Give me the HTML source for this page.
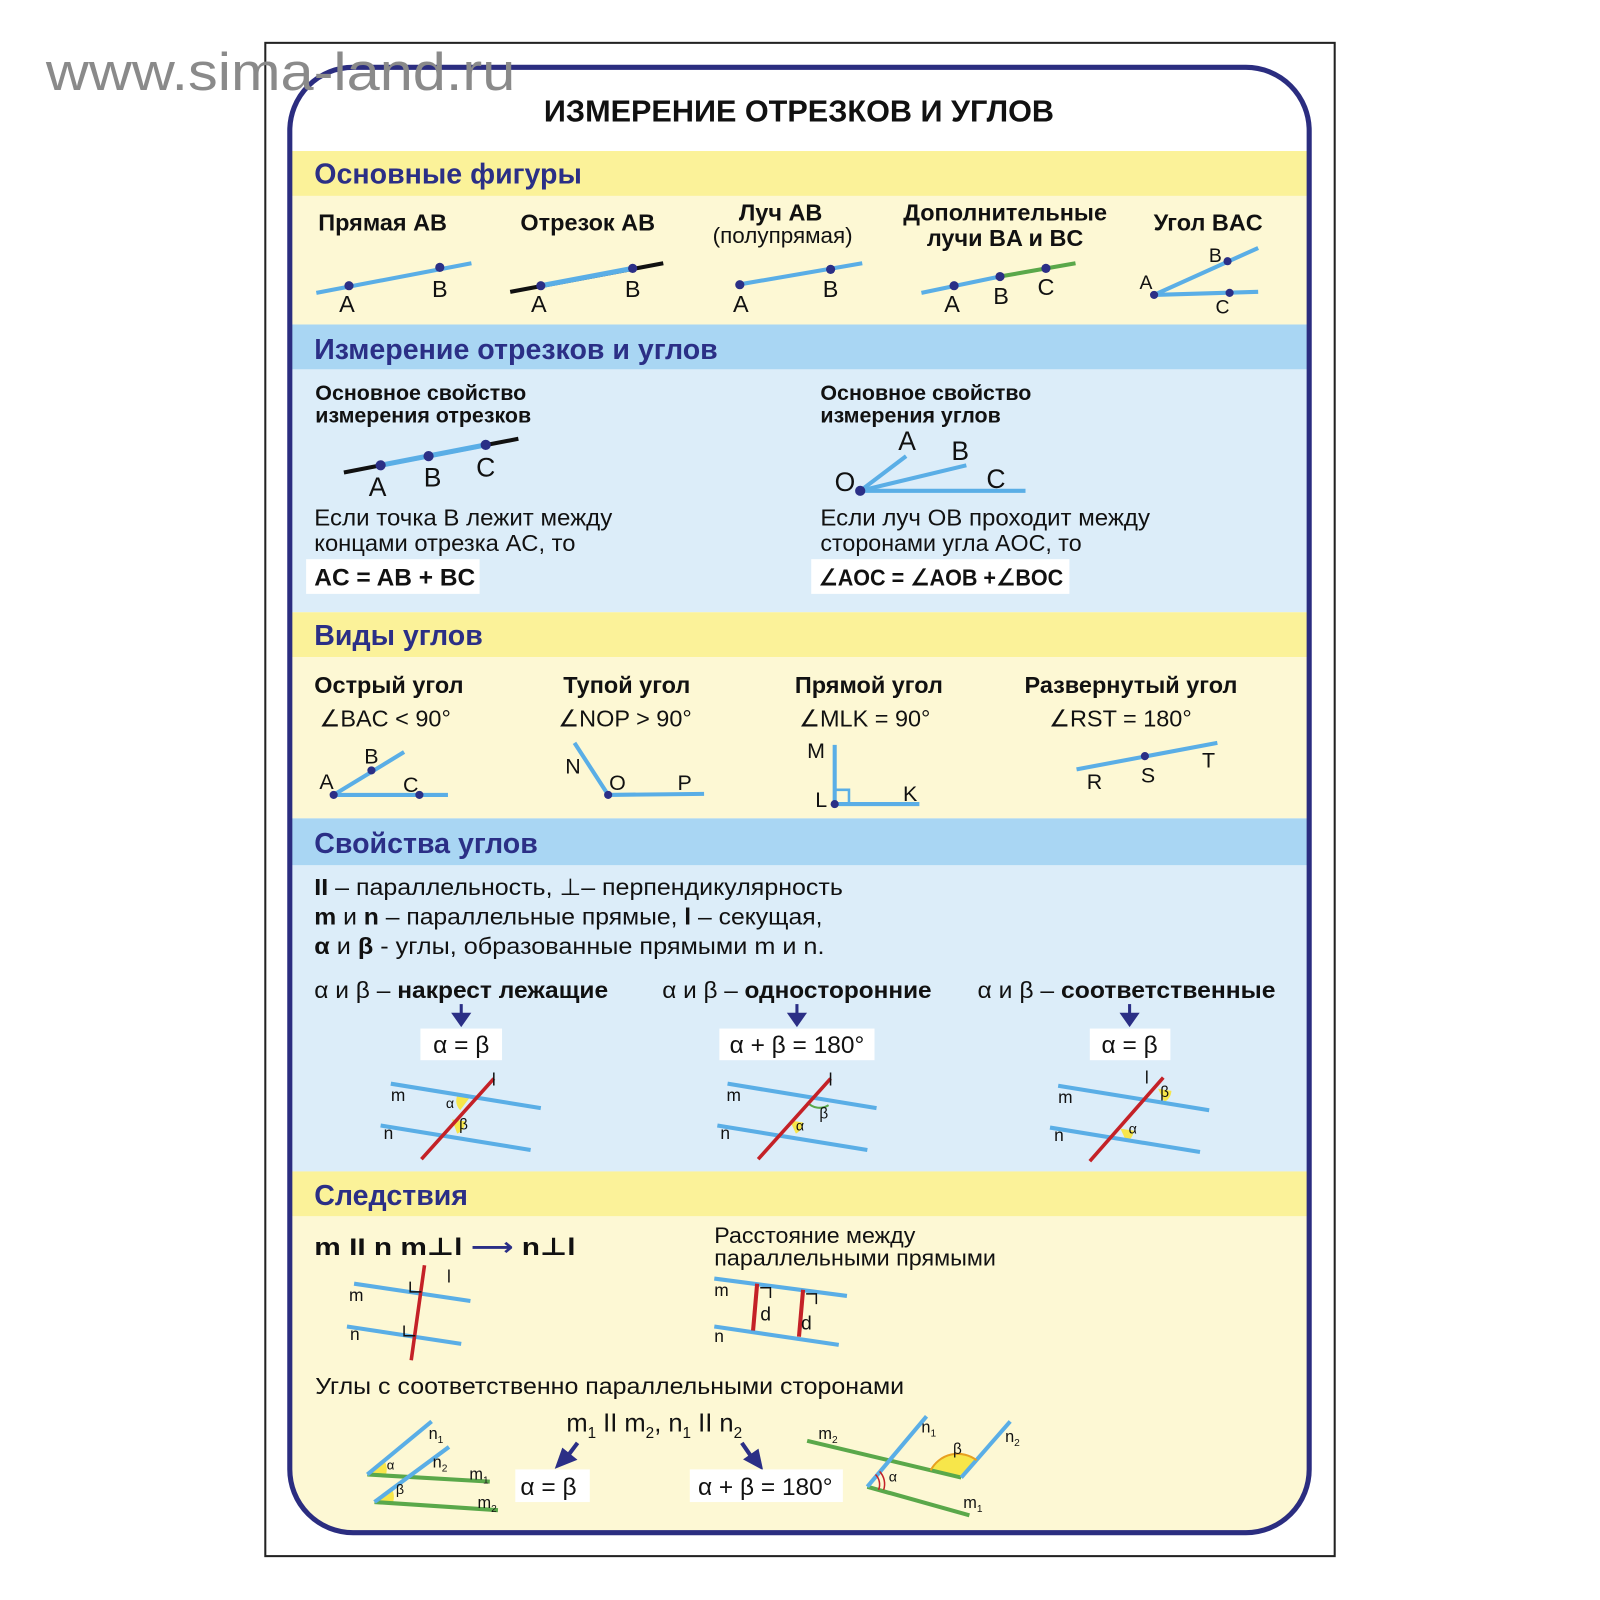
<!DOCTYPE html>
<html><head><meta charset="utf-8"><style>html,body{margin:0;padding:0;background:#fff}svg{display:block}
text{font-family:"Liberation Sans","DejaVu Sans",sans-serif}</style></head><body>
<svg width="1600" height="1600" viewBox="0 0 1568 1568" xmlns="http://www.w3.org/2000/svg">
<defs><clipPath id="c"><rect x="284" y="66" width="999" height="1436" rx="62"/></clipPath></defs>
<rect x="260" y="42" width="1048" height="1483" fill="#fff" stroke="#222" stroke-width="2"/>
<g clip-path="url(#c)">
<rect x="284" y="66" width="999" height="1436" fill="#fff"/>
<rect x="284" y="148" width="999" height="44" fill="#fbf299"/>
<rect x="284" y="192" width="999" height="126" fill="#fdf8d4"/>
<rect x="284" y="318" width="999" height="44" fill="#a9d6f3"/>
<rect x="284" y="362" width="999" height="238" fill="#dcedf9"/>
<rect x="284" y="600" width="999" height="44" fill="#fbf299"/>
<rect x="284" y="644" width="999" height="158" fill="#fdf8d4"/>
<rect x="284" y="802" width="999" height="46" fill="#a9d6f3"/>
<rect x="284" y="848" width="999" height="300" fill="#dcedf9"/>
<rect x="284" y="1148" width="999" height="44" fill="#fbf299"/>
<rect x="284" y="1192" width="999" height="320" fill="#fdf8d4"/>
</g>
<rect x="284" y="66" width="999" height="1436" rx="62" fill="none" stroke="#2b2d80" stroke-width="5"/>
<text x="45" y="88" font-size="52" fill="#8a8a8a" textLength="460" lengthAdjust="spacingAndGlyphs">www.sima-land.ru</text>
<text x="783" y="119" font-size="30" font-weight="bold" text-anchor="middle" fill="#111">ИЗМЕРЕНИЕ ОТРЕЗКОВ И УГЛОВ</text>
<g font-size="28" font-weight="bold" fill="#2b2f86">
<text x="308" y="180">Основные фигуры</text>
<text x="308" y="352">Измерение отрезков и углов</text>
<text x="308" y="632">Виды углов</text>
<text x="308" y="836">Свойства углов</text>
<text x="308" y="1181">Следствия</text>
</g>
<g font-size="23" font-weight="bold" fill="#111" text-anchor="middle">
<text x="375" y="226">Прямая AB</text><text x="576" y="226">Отрезок AB</text>
<text x="765" y="216">Луч AB</text><text x="985" y="216">Дополнительные</text><text x="985" y="241">лучи BA и BC</text>
<text x="1184" y="226">Угол BAC</text></g>
<text x="767" y="238" font-size="22" text-anchor="middle" fill="#111">(полупрямая)</text>
<g stroke="#5aaee6" stroke-width="4" fill="none">
<line x1="310" y1="287" x2="462" y2="258"/>
<line x1="723" y1="279" x2="845" y2="258"/>
<line x1="903" y1="287" x2="980" y2="271"/>
<line x1="1131" y1="289" x2="1233" y2="243"/><line x1="1131" y1="289" x2="1233" y2="286"/>
<line x1="843" y1="481" x2="947" y2="456"/><line x1="843" y1="481" x2="888" y2="447"/><line x1="843" y1="481" x2="1005" y2="481"/>
</g>
<line x1="500" y1="286" x2="650" y2="258" stroke="#111" stroke-width="4"/>
<line x1="530" y1="280" x2="620" y2="263" stroke="#5aaee6" stroke-width="5"/>
<line x1="980" y1="271" x2="1054" y2="258" stroke="#5aa84a" stroke-width="4"/>
<line x1="337" y1="463" x2="508" y2="430" stroke="#111" stroke-width="4"/>
<line x1="373" y1="456" x2="476" y2="436" stroke="#5aaee6" stroke-width="5"/>
<g fill="#2b2f86">
<circle cx="342" cy="280" r="4.5"/><circle cx="431" cy="262" r="4.5"/>
<circle cx="530" cy="280" r="4.5"/><circle cx="620" cy="263" r="4.5"/>
<circle cx="725" cy="279" r="4.5"/><circle cx="814" cy="264" r="4.5"/>
<circle cx="935" cy="280" r="4.5"/><circle cx="980" cy="271" r="4.5"/><circle cx="1025" cy="263" r="4.5"/>
<circle cx="1131" cy="289" r="4"/><circle cx="1203" cy="256" r="4"/><circle cx="1205" cy="287" r="4"/>
<circle cx="373" cy="456" r="5"/><circle cx="420" cy="447" r="5"/><circle cx="476" cy="436" r="5"/>
<circle cx="843" cy="481" r="5"/>
</g>
<g font-size="23" fill="#111" text-anchor="middle">
<text x="340" y="306">A</text><text x="431" y="291">B</text>
<text x="528" y="306">A</text><text x="620" y="291">B</text>
<text x="726" y="306">A</text><text x="814" y="291">B</text>
<text x="933" y="306">A</text><text x="981" y="298">B</text><text x="1025" y="289">C</text>
<text x="1123" y="283" font-size="19">A</text><text x="1191" y="257" font-size="19">B</text><text x="1198" y="307" font-size="19">C</text>
</g>
<g font-size="21" font-weight="bold" fill="#111">
<text x="309" y="392">Основное свойство</text><text x="309" y="414">измерения отрезков</text>
<text x="804" y="392">Основное свойство</text><text x="804" y="414">измерения углов</text></g>
<g font-size="26" fill="#111" text-anchor="middle">
<text x="370" y="486">A</text><text x="424" y="477">B</text><text x="476" y="467">C</text>
<text x="889" y="441">A</text><text x="941" y="451">B</text><text x="976" y="478">C</text><text x="828" y="481">O</text></g>
<g font-size="23" fill="#111">
<text x="308" y="515" textLength="292" lengthAdjust="spacingAndGlyphs">Если точка B лежит между</text><text x="308" y="540" textLength="256" lengthAdjust="spacingAndGlyphs">концами отрезка AC, то</text>
<text x="804" y="515" textLength="323" lengthAdjust="spacingAndGlyphs">Если луч OB проходит между</text><text x="804" y="540" textLength="256" lengthAdjust="spacingAndGlyphs">сторонами угла AOC, то</text></g>
<rect x="300" y="548" width="170" height="34" fill="#fff"/>
<rect x="795" y="548" width="253" height="34" fill="#fff"/>
<text x="308" y="574" font-size="24" font-weight="bold" fill="#111">AC = AB + BC</text>
<text x="802" y="574" font-size="23" font-weight="bold" fill="#111" textLength="240" lengthAdjust="spacingAndGlyphs">∠AOC = ∠AOB +∠BOC</text>
<g font-size="23" font-weight="bold" fill="#111">
<text x="308" y="679">Острый угол</text><text x="552" y="679">Тупой угол</text><text x="779" y="679">Прямой угол</text><text x="1004" y="679">Развернутый угол</text></g>
<g font-size="23" fill="#111">
<text x="313" y="712">∠BAC &lt; 90°</text><text x="547" y="712">∠NOP &gt; 90°</text><text x="783" y="712">∠MLK = 90°</text><text x="1028" y="712">∠RST = 180°</text></g>
<g stroke="#5aaee6" stroke-width="4" fill="none">
<line x1="327" y1="779" x2="396" y2="737"/><line x1="327" y1="779" x2="439" y2="779"/>
<line x1="596" y1="779" x2="563" y2="728"/><line x1="596" y1="779" x2="690" y2="778"/>
<line x1="818" y1="788" x2="818" y2="730"/><line x1="818" y1="788" x2="901" y2="788"/>
<line x1="1055" y1="754" x2="1193" y2="728"/>
</g>
<path d="M818 774 H832 V788" fill="none" stroke="#5aaee6" stroke-width="2.5"/>
<g fill="#2b2f86"><circle cx="327" cy="779" r="4"/><circle cx="364" cy="755" r="4"/><circle cx="411" cy="779" r="4"/>
<circle cx="596" cy="779" r="4"/><circle cx="818" cy="788" r="4"/><circle cx="1122" cy="741" r="4"/></g>
<g font-size="21" fill="#111">
<text x="313" y="773">A</text><text x="357" y="748">B</text><text x="395" y="776">C</text>
<text x="554" y="758">N</text><text x="597" y="774">O</text><text x="664" y="774">P</text>
<text x="791" y="743">M</text><text x="799" y="791">L</text><text x="885" y="785">K</text>
<text x="1065" y="773">R</text><text x="1118" y="767">S</text><text x="1178" y="752">T</text></g>
<g font-size="23" fill="#111">
<text x="308" y="877" textLength="518" lengthAdjust="spacingAndGlyphs"><tspan font-weight="bold">II</tspan> – параллельность, ⊥– перпендикулярность</text>
<text x="308" y="906" textLength="498" lengthAdjust="spacingAndGlyphs"><tspan font-weight="bold">m</tspan> и <tspan font-weight="bold">n</tspan> – параллельные прямые, <tspan font-weight="bold">l</tspan> – секущая,</text>
<text x="308" y="935" textLength="500" lengthAdjust="spacingAndGlyphs"><tspan font-weight="bold">α</tspan> и <tspan font-weight="bold">β</tspan> - углы, образованные прямыми m и n.</text>
<text x="308" y="978" textLength="288" lengthAdjust="spacingAndGlyphs">α и β – <tspan font-weight="bold">накрест лежащие</tspan></text>
<text x="649" y="978" textLength="264" lengthAdjust="spacingAndGlyphs">α и β – <tspan font-weight="bold">односторонние</tspan></text>
<text x="958" y="978" textLength="292" lengthAdjust="spacingAndGlyphs">α и β – <tspan font-weight="bold">соответственные</tspan></text></g>
<g stroke="#2b2f86" stroke-width="3" fill="#2b2f86">
<line x1="452" y1="984" x2="452" y2="996"/><path d="M445 994 L459 994 L452 1004Z"/>
<line x1="781" y1="984" x2="781" y2="996"/><path d="M774 994 L788 994 L781 1004Z"/>
<line x1="1107" y1="984" x2="1107" y2="996"/><path d="M1100 994 L1114 994 L1107 1004Z"/></g>
<rect x="412" y="1008" width="80" height="31" fill="#fff"/><rect x="705" y="1008" width="152" height="31" fill="#fff"/><rect x="1068" y="1008" width="79" height="31" fill="#fff"/>
<g font-size="24" fill="#111" text-anchor="middle"><text x="452" y="1032">α = β</text><text x="781" y="1032">α + β = 180°</text><text x="1107" y="1032">α = β</text></g>
<g fill="#f7e64a">
<path d="M460 1076 L448 1074 A13 13 0 0 0 451 1088Z"/>
<path d="M443 1097 L456 1099 A13 13 0 0 1 448 1111Z"/>
<path d="M1135 1067 L1148 1069 A13 13 0 0 1 1141 1080Z"/>
<path d="M1098 1106 L1111 1108 A13 13 0 0 1 1104 1119Z"/>
<path d="M774 1098 L787 1100 A13 13 0 0 1 780 1111Z"/>
</g>
<path d="M791 1080 A16 16 0 0 0 812 1083" fill="none" stroke="#5aa84a" stroke-width="2"/>
<g stroke="#5aaee6" stroke-width="4">
<line x1="383" y1="1062" x2="530" y2="1086"/><line x1="373" y1="1103" x2="520" y2="1127"/>
<line x1="713" y1="1062" x2="859" y2="1086"/><line x1="703" y1="1103" x2="850" y2="1127"/>
<line x1="1037" y1="1064" x2="1185" y2="1088"/><line x1="1029" y1="1105" x2="1176" y2="1129"/></g>
<g stroke="#c42127" stroke-width="3.5">
<line x1="413" y1="1136" x2="484" y2="1057"/><line x1="743" y1="1136" x2="814" y2="1057"/><line x1="1068" y1="1138" x2="1140" y2="1056"/></g>
<g font-size="17" fill="#111">
<text x="383" y="1079">m</text><text x="376" y="1116">n</text><text x="482" y="1064">l</text><text x="437" y="1086" font-size="14">α</text><text x="450" y="1107" font-size="15">β</text>
<text x="712" y="1079">m</text><text x="706" y="1116">n</text><text x="812" y="1064">l</text><text x="803" y="1096" font-size="15">β</text><text x="780" y="1108" font-size="14">α</text>
<text x="1037" y="1081">m</text><text x="1033" y="1118">n</text><text x="1122" y="1062">l</text><text x="1137" y="1075" font-size="15">β</text><text x="1106" y="1111" font-size="14">α</text></g>
<text x="308" y="1230" font-size="24" font-weight="bold" fill="#111" textLength="256" lengthAdjust="spacingAndGlyphs">m II n   m⊥l  <tspan fill="#2b2f86">⟶</tspan> n⊥l</text>
<g stroke="#5aaee6" stroke-width="4">
<line x1="347" y1="1258" x2="461" y2="1275"/><line x1="340" y1="1300" x2="452" y2="1317"/>
<line x1="700" y1="1253" x2="830" y2="1270"/><line x1="700" y1="1300" x2="822" y2="1318"/></g>
<line x1="403" y1="1333" x2="416" y2="1240" stroke="#c42127" stroke-width="3.5"/>
<line x1="742" y1="1258" x2="738" y2="1304" stroke="#c42127" stroke-width="4"/>
<line x1="787" y1="1264" x2="783" y2="1310" stroke="#c42127" stroke-width="4"/>
<g fill="none" stroke="#111" stroke-width="1.5">
<path d="M402 1256 V1266 H413"/><path d="M396 1299 V1309 H407"/><path d="M745 1262 H755 V1272"/><path d="M790 1268 H800 V1278"/></g>
<g font-size="17" fill="#111"><text x="342" y="1275">m</text><text x="343" y="1313">n</text><text x="438" y="1257">l</text>
<text x="700" y="1270">m</text><text x="700" y="1315">n</text><text x="745" y="1294" font-size="19">d</text><text x="785" y="1303" font-size="19">d</text></g>
<g font-size="22" fill="#111"><text x="700" y="1218" textLength="197" lengthAdjust="spacingAndGlyphs">Расстояние между</text><text x="700" y="1240" textLength="276" lengthAdjust="spacingAndGlyphs">параллельными прямыми</text></g>
<text x="309" y="1366" font-size="23" fill="#111" textLength="577" lengthAdjust="spacingAndGlyphs">Углы с соответственно параллельными сторонами</text>
<text x="555" y="1403" font-size="25" fill="#111">m<tspan font-size="15" dy="6">1</tspan><tspan dy="-6"> II m</tspan><tspan font-size="15" dy="6">2</tspan><tspan dy="-6">,  n</tspan><tspan font-size="15" dy="6">1</tspan><tspan dy="-6"> II n</tspan><tspan font-size="15" dy="6">2</tspan></text>
<g stroke="#2b2f86" stroke-width="4" fill="#2b2f86"><line x1="566" y1="1414" x2="554" y2="1430"/><path d="M547 1436 L552 1422 L562 1430Z"/>
<line x1="727" y1="1414" x2="738" y2="1430"/><path d="M745 1437 L732 1430 L742 1423Z"/></g>
<rect x="505" y="1440" width="73" height="32" fill="#fff"/><rect x="676" y="1440" width="150" height="32" fill="#fff"/>
<g font-size="24" fill="#111"><text x="510" y="1465">α = β</text><text x="684" y="1465">α + β = 180°</text></g>
<g fill="#f7e64a"><path d="M360 1445 L377 1432 A18 18 0 0 1 378 1446Z"/><path d="M367 1472 L384 1459 A18 18 0 0 1 385 1473Z"/>
<path d="M942 1448 L912 1441 A30 30 0 0 1 957 1431Z"/></g>
<g stroke="#5aa84a" stroke-width="4"><line x1="360" y1="1445" x2="480" y2="1452"/><line x1="367" y1="1472" x2="488" y2="1480"/>
<line x1="791" y1="1412" x2="942" y2="1448"/><line x1="850" y1="1457" x2="950" y2="1485"/></g>
<g stroke="#5aaee6" stroke-width="4"><line x1="360" y1="1445" x2="423" y2="1393"/><line x1="367" y1="1472" x2="440" y2="1418"/>
<line x1="850" y1="1457" x2="908" y2="1388"/><line x1="942" y1="1448" x2="990" y2="1393"/></g>
<path d="M912 1441 A30 30 0 0 1 957 1431" fill="none" stroke="#e8a020" stroke-width="2"/>
<path d="M862 1442 A18 18 0 0 1 866 1460 M858 1445 A14 14 0 0 1 861 1460" fill="none" stroke="#c42127" stroke-width="1.5"/>
<g font-size="16" fill="#111"><text x="420" y="1410">n<tspan font-size="10" dy="4">1</tspan></text><text x="424" y="1438">n<tspan font-size="10" dy="4">2</tspan></text>
<text x="460" y="1450">m<tspan font-size="10" dy="4">1</tspan></text><text x="468" y="1478">m<tspan font-size="10" dy="4">2</tspan></text>
<text x="379" y="1440" font-size="13">α</text><text x="388" y="1464" font-size="14">β</text>
<text x="802" y="1410">m<tspan font-size="10" dy="4">2</tspan></text><text x="903" y="1404">n<tspan font-size="10" dy="4">1</tspan></text>
<text x="985" y="1413">n<tspan font-size="10" dy="4">2</tspan></text><text x="934" y="1425" font-size="15">β</text>
<text x="871" y="1452" font-size="14">α</text><text x="944" y="1478">m<tspan font-size="10" dy="4">1</tspan></text></g>
</svg>
</body></html>
